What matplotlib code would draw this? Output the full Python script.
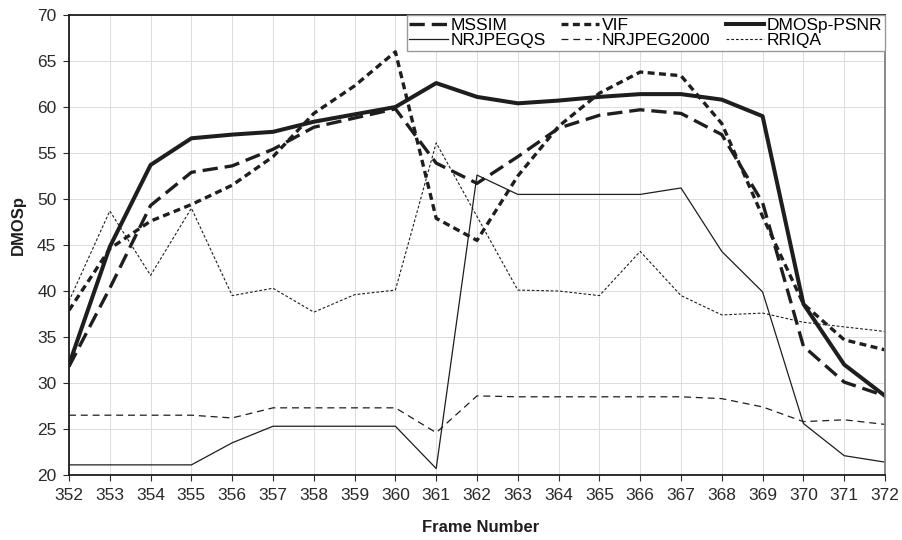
import matplotlib
matplotlib.use('Agg')
import matplotlib.pyplot as plt

plt.rcParams['font.family'] = ['Liberation Sans', 'DejaVu Sans']
plt.rcParams['lines.scale_dashes'] = False

frames = list(range(352, 373))

mssim = [31.8, 40.3, 49.3, 52.9, 53.6, 55.4, 57.8, 58.8, 59.8, 53.9, 51.7,
         54.6, 57.7, 59.1, 59.7, 59.3, 57.0, 49.6, 34.0, 30.1, 28.6]
vif = [37.9, 44.6, 47.6, 49.4, 51.5, 54.6, 59.3, 62.3, 66.0, 47.9, 45.5,
       52.5, 57.9, 61.5, 63.8, 63.4, 58.2, 48.1, 38.6, 34.7, 33.6]
dmosp_psnr = [32.0, 44.8, 53.7, 56.6, 57.0, 57.3, 58.4, 59.2, 60.0, 62.6, 61.1,
              60.4, 60.7, 61.1, 61.4, 61.4, 60.8, 59.0, 38.6, 32.0, 28.6]
nrjpegqs = [21.1, 21.1, 21.1, 21.1, 23.5, 25.3, 25.3, 25.3, 25.3, 20.7, 52.6,
            50.5, 50.5, 50.5, 50.5, 51.2, 44.3, 39.9, 25.6, 22.1, 21.4]
nrjpeg2000 = [26.5, 26.5, 26.5, 26.5, 26.2, 27.3, 27.3, 27.3, 27.3, 24.6, 28.6,
              28.5, 28.5, 28.5, 28.5, 28.5, 28.3, 27.4, 25.8, 26.0, 25.5]
rriqa = [38.9, 48.7, 41.7, 49.0, 39.5, 40.3, 37.7, 39.6, 40.1, 56.1, 48.1,
         40.1, 40.0, 39.5, 44.3, 39.5, 37.4, 37.6, 36.6, 36.1, 35.6]

ink = '#1e1e1e'

fig = plt.figure(figsize=(9.03, 5.4), dpi=100)
ax = fig.add_axes([69 / 903, 1 - 475 / 540, 816 / 903, 460 / 540])

ax.plot(frames, mssim, color=ink, lw=2.4, ls=(0, (11, 5)), label='MSSIM')
ax.plot(frames, nrjpegqs, color=ink, lw=0.9, ls='-', label='NRJPEGQS')
ax.plot(frames, vif, color=ink, lw=2.4, ls=(0, (5, 3.2)), label='VIF')
ax.plot(frames, nrjpeg2000, color=ink, lw=0.9, ls=(0, (5, 3.5)), label='NRJPEG2000')
ax.plot(frames, dmosp_psnr, color=ink, lw=2.9, ls='-', label='DMOSp-PSNR')
ax.plot(frames, rriqa, color=ink, lw=0.8, ls=(0, (2, 1.4)), label='RRIQA')

ax.set_xlim(352, 372)
ax.set_ylim(20, 70)
ax.set_xticks(frames)
ax.set_yticks(range(20, 71, 5))
ax.grid(True, color='#dcdcdc', lw=0.7)
ax.set_axisbelow(True)

ax.tick_params(axis='both', labelsize=12.5, colors='#2a2a2a', length=4, width=0.8)
ax.tick_params(axis='x', pad=5)
ax.tick_params(axis='y', pad=5)
for side in ['left', 'bottom', 'top']:
    ax.spines[side].set_color(ink)
    ax.spines[side].set_linewidth(1.3)
ax.spines['right'].set_color('#808080')
ax.spines['right'].set_linewidth(1.3)

ax.set_xlabel('Frame Number', fontsize=12, fontweight='bold', color=ink)
ax.set_ylabel('DMOSp', fontsize=12, fontweight='bold', color=ink)
ax.xaxis.label.set_va('top')
ax.xaxis.set_label_coords(0.505, -0.098)
ax.yaxis.label.set_va('center')
ax.yaxis.set_label_coords(-0.062, 0.543)

leg = ax.legend(ncol=3, loc='upper right', bbox_to_anchor=(1, 1), borderaxespad=0,
                fontsize=12.5, frameon=True, fancybox=False, handlelength=2.2,
                handletextpad=0.15, columnspacing=0.9, labelspacing=0.0,
                borderpad=0.15)
leg.get_frame().set_edgecolor('#999999')
leg.get_frame().set_linewidth(1.0)
leg.get_frame().set_alpha(1)

fig.savefig('out.png', dpi=100)
